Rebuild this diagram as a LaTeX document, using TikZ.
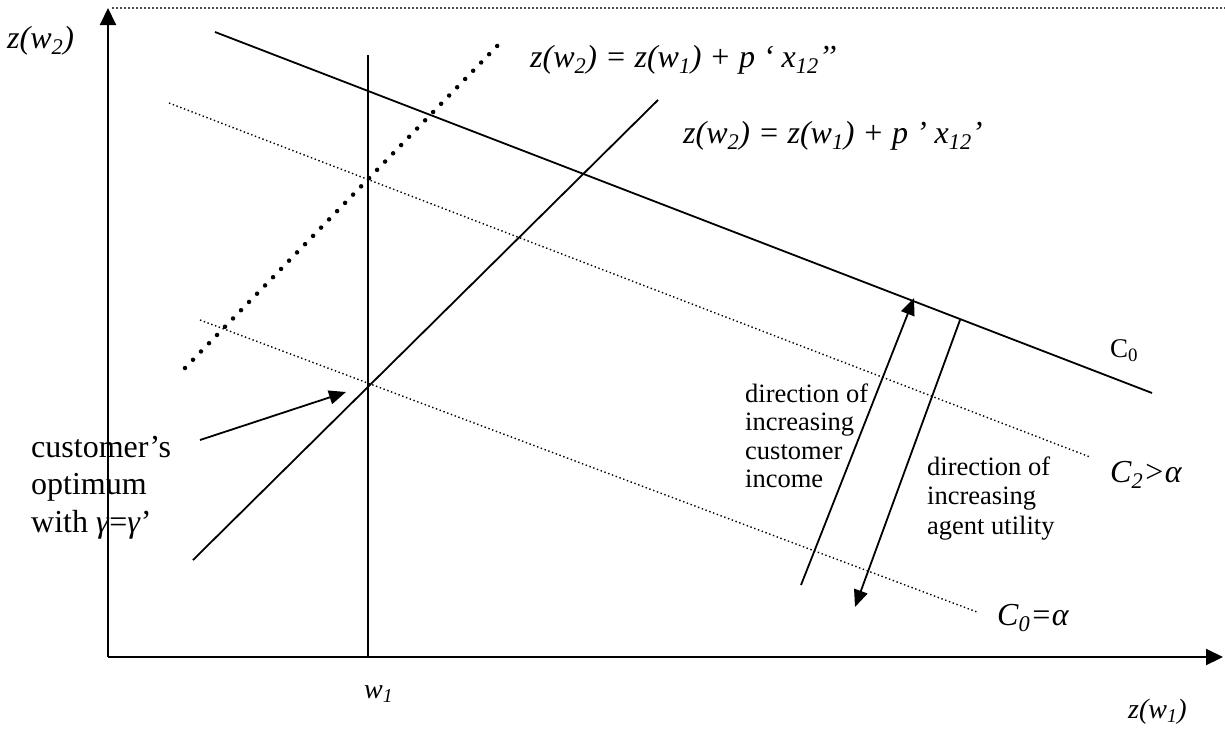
\documentclass[tikz,border=0pt]{standalone}
\usepackage{fontspec}
\setmainfont{Liberation Serif}
\usetikzlibrary{arrows.meta}
\newcommand\sbs[1]{\textsubscript{#1}}
\begin{document}
\begin{tikzpicture}[x=1pt,y=-1pt,
  axis/.style={line width=2pt,-{Triangle[length=17pt,width=16pt]}},
  solidline/.style={line width=1.8pt},
  thindot/.style={line width=1.4pt,dash pattern=on 1.4pt off 2.6pt},
  topdot/.style={line width=1.5pt,dash pattern=on 1.5pt off 2.5pt,black!70},
  thickdot/.style={line width=4.5pt,line cap=round,dash pattern=on 0pt off 11.5pt},
  arr/.style={line width=1.8pt,-{Triangle[length=17pt,width=14pt]}},
  big/.style={font=\fontsize{32}{37}\selectfont,inner sep=0pt},
  mid/.style={font=\fontsize{26.5}{29}\selectfont,inner sep=0pt},
  lab/.style={anchor=base west}]
\useasboundingbox (0,0) rectangle (1225,729);
% coordinates
\coordinate (O) at (108,657);
\coordinate (Ytop) at (108,8);
\coordinate (Xend) at (1223,657);
\coordinate (T1) at (112,8);
\coordinate (T2) at (1225,8);
\coordinate (W1a) at (368,55);
\coordinate (W1b) at (368,657);
\coordinate (Ca) at (215,32);
\coordinate (Cb) at (1152,393);
\coordinate (Pa) at (193,560);
\coordinate (Pb) at (658,100);
\coordinate (Da) at (185,368);
\coordinate (Db) at (501,42);
\coordinate (C2a) at (169,103);
\coordinate (C2b) at (1090,457);
\coordinate (C0a) at (200,320);
\coordinate (C0b) at (977,612);
\coordinate (IAa) at (801,585);
\coordinate (IAb) at (914,298);
\coordinate (UAa) at (960,320);
\coordinate (UAb) at (855,607);
\coordinate (OAa) at (200,440);
\coordinate (OAb) at (346,392);
% axes
\draw[topdot] (T1) -- (T2);
\draw[axis] (O) -- (Ytop);
\draw[axis] (O) -- (Xend);
% lines
\draw[solidline] (W1a) -- (W1b);
\draw[solidline] (Ca) -- (Cb);
\draw[solidline] (Pa) -- (Pb);
\draw[thickdot] (Da) -- (Db);
\draw[thindot] (C2a) -- (C2b);
\draw[thindot] (C0a) -- (C0b);
% arrows
\draw[arr] (IAa) -- (IAb);
\draw[arr] (UAa) -- (UAb);
\draw[arr] (OAa) -- (OAb);
% labels
\node[big,lab] (zw2) at (7,48) {\itshape z(w\sbs{2})};
\node[big,lab] (eq1) at (530,67) {\itshape z(w\sbs{2}) = z(w\sbs{1}) + p ‘ x\sbs{12}’’};
\node[big,lab] (eq2) at (683,143) {\itshape z(w\sbs{2}) = z(w\sbs{1}) + p ’ x\sbs{12}’};
\node[font=\fontsize{27}{30}\selectfont,inner sep=0pt,lab] (c0lab) at (1110,357) {C\sbs{0}};
\node[big,lab] (c2lab) at (1110,482) {\itshape C\sbs{2}>α};
\node[big,lab] (c0alab) at (997,625) {\itshape C\sbs{0}=α};
\node[big,lab] (opt1) at (31,457) {customer’s};
\node[big,lab] (opt2) at (31,494) {optimum};
\node[big,lab] (opt3) at (31,532) {with \textit{γ}=\textit{γ}’};
\node[mid,lab] (inc1) at (745,402) {direction of};
\node[mid,lab] (inc2) at (745,430) {increasing};
\node[mid,lab] (inc3) at (745,459) {customer};
\node[mid,lab] (inc4) at (745,487) {income};
\node[mid,lab] (ag1) at (927,475) {direction of};
\node[mid,lab] (ag2) at (927,504) {increasing};
\node[mid,lab] (ag3) at (927,534) {agent utility};
\node[font=\fontsize{28}{30}\selectfont,inner sep=0pt,lab] (w1lab) at (364,698) {\itshape w\sbs{1}};
\node[font=\fontsize{28}{30}\selectfont,inner sep=0pt,lab] (zw1lab) at (1128,718) {\itshape z(w\sbs{1})};
\end{tikzpicture}
\end{document}
